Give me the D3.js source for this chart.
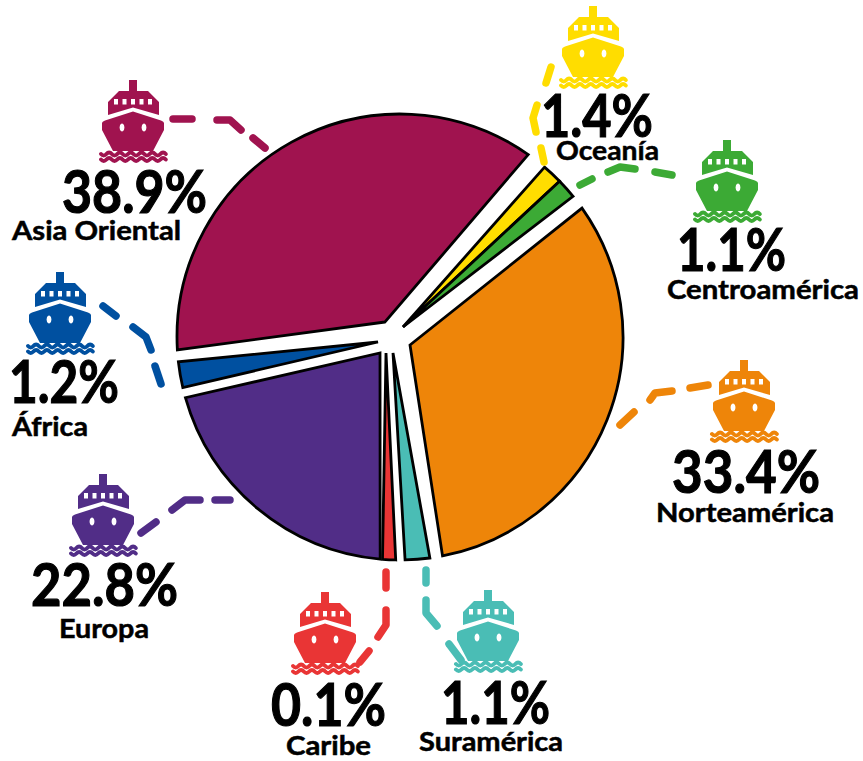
<!DOCTYPE html>
<html><head><meta charset="utf-8">
<script src="https://cdn.jsdelivr.net/npm/d3@7"></script>
<style>html,body{margin:0;background:#fff}svg{display:block}</style></head>
<body><svg id="c" width="863" height="761"></svg>
<script>
// Data (clockwise from Oceanía)
const categories = ["Oceanía","Centroamérica","Norteamérica","Suramérica","Caribe","Europa","África","Asia Oriental"];
const labelValues = [1.4,1.1,33.4,1.1,0.1,22.8,1.2,38.9];
// drawn slice widths in degrees (small slices are exaggerated in the original)
const drawnWidths = [5.3,5.2,114.3,6.4,3.4,69.1,6.7,128.4];
const gapsAfter = [0,3.8,3.3,2.4,0.6,2.7,3.1,5.3];
const colors = ["#FFDD00","#3CAA35","#EE8509","#4ABDB5","#E93535","#512D87","#0050A0","#A0134F"];

// Layout
const W=863,H=761,cx=400,cy=337,R=223,startDeg=40.4;
const apexes=[[403,327],[403,327],[410,345],[393,353],[386,353],[380,353],[378,342],[385,322]];
const ships=[[593,6],[727,140],[744,360],[488,590],[325,592],[103,474],[60,272],[133,80]];
const pctPos=[[541,653,137],[677,786,271],[672,820,493],[441,550,724],[271,386,726],[31,178,606],[9,119,403],[62,207,213]];
const namePos=[[556,659,160],[667,859,299],[656,834,522],[419,563,751],[286,371,755],[59,149,638],[12,88,436],[12,181,240]];
const leaders=[
 [[[551,67],[546,83]],[[537,105],[533,118],[536,132]],[[541,148],[544,162]]],
 [[[580,185],[592,179]],[[608,172],[620,167],[635,169]],[[655,172],[672,175]]],
 [[[620,425],[634,412]],[[650,400],[655,393],[672,391]],[[690,388],[708,385]]],
 [[[426,570],[426,583]],[[426,600],[426,613],[437,626]],[[449,644],[461,660]]],
 [[[386,572],[386,588]],[[386,610],[386,625],[378,637]],[[369,651],[360,662]]],
 [[[141,533],[156,522]],[[172,510],[185,500],[200,500]],[[215,500],[230,500]]],
 [[[103,306],[116,316]],[[133,327],[146,337],[151,350]],[[155,366],[161,384]]],
 [[[173,119],[192,119]],[[217,120],[230,120],[241,130]],[[253,138],[265,148]]]
];

const svg=d3.select("#c");
const rad=d=>d*Math.PI/180;

// angles via d3.pie over widths + gaps
const seq=drawnWidths.flatMap((w,i)=>[{w,i},{w:gapsAfter[i],i:-1}]);
const arcs=d3.pie().value(d=>d.w).sort(null)
  .startAngle(rad(startDeg)).endAngle(rad(startDeg+360))(seq)
  .filter(a=>a.data.i>=0);

// slices
svg.append("g").selectAll("path").data(arcs).join("path")
  .attr("d",a=>{
    const i=a.data.i,p=d3.path();
    p.moveTo(apexes[i][0],apexes[i][1]);
    p.arc(cx,cy,R,a.startAngle-Math.PI/2,a.endAngle-Math.PI/2);
    p.closePath();return p.toString();})
  .attr("fill",a=>colors[a.data.i]).attr("stroke","#000").attr("stroke-width",2.8)
  .attr("stroke-linejoin","miter");

// leaders
const line=d3.line();
const lg=svg.append("g").attr("fill","none").attr("stroke-width",7.5)
  .attr("stroke-linecap","round").attr("stroke-linejoin","round");
leaders.forEach((dashes,i)=>dashes.forEach(d=>lg.append("path").attr("d",line(d)).attr("stroke",colors[i])));

// ship icon
function wave(y){
  const p=d3.path();let x=-32;p.moveTo(x,y);
  for(let k=0;k<12;k++){p.quadraticCurveTo(x+2.7,y+(k%2?-3:3),x+5.4,y);x+=5.4;}
  return p.toString();
}
const defs=svg.append("defs");
const sym=defs.append("g").attr("id","ship");
sym.append("path").attr("d","M-4,0H4V11H15L26,22V35L0,27.5L-25,35V22L-14,11H-4Z");
sym.append("path").attr("fill-rule","evenodd").attr("d","M-31,43Q-31,41.5-28,40.5L0,31.5L28,40.5Q31,41.5,31,43V50L20,71H-20L-31,50Z M-11,43.5a2.4,4 0 1,0 .01,0Z M11,43.5a2.4,4 0 1,0 .01,0Z");
[74,79.5].forEach(y=>sym.append("path").attr("d",wave(y)).attr("fill","none").attr("stroke-width",4).attr("stroke-linecap","round").attr("class","w"));
const wins=[-17,-8.5,0,8.5,17];
wins.forEach(x=>sym.append("rect").attr("x",x-2).attr("y",19).attr("width",4).attr("height",5.5).attr("fill","#fff"));

svg.append("g").selectAll("g").data(ships).join("g")
  .attr("transform",d=>`translate(${d[0]},${d[1]})`)
  .each(function(d,i){
    const g=d3.select(this).attr("fill",colors[i]);
    g.html(sym.html());
    g.selectAll(".w").attr("stroke",colors[i]);
  });

// text
const fmt=v=>v.toFixed(1)+"%";
svg.append("g").selectAll("text").data(labelValues).join("text")
  .text(fmt)
  .attr("x",(d,i)=>pctPos[i][0]).attr("y",(d,i)=>pctPos[i][2])
  .attr("textLength",(d,i)=>pctPos[i][1]-pctPos[i][0]).attr("lengthAdjust","spacingAndGlyphs")
  .attr("font-family","Lato").attr("font-weight",700).attr("font-size",60).attr("fill","#000")
  .attr("stroke","#000").attr("stroke-width",1.2);
svg.append("g").selectAll("text").data(categories).join("text")
  .text(d=>d)
  .attr("x",(d,i)=>namePos[i][0]).attr("y",(d,i)=>namePos[i][2])
  .attr("textLength",(d,i)=>namePos[i][1]-namePos[i][0]).attr("lengthAdjust","spacingAndGlyphs")
  .attr("font-family","Lato").attr("font-weight",700).attr("font-size",26).attr("fill","#000")
  .attr("stroke","#000").attr("stroke-width",0.5);
</script></body></html>
